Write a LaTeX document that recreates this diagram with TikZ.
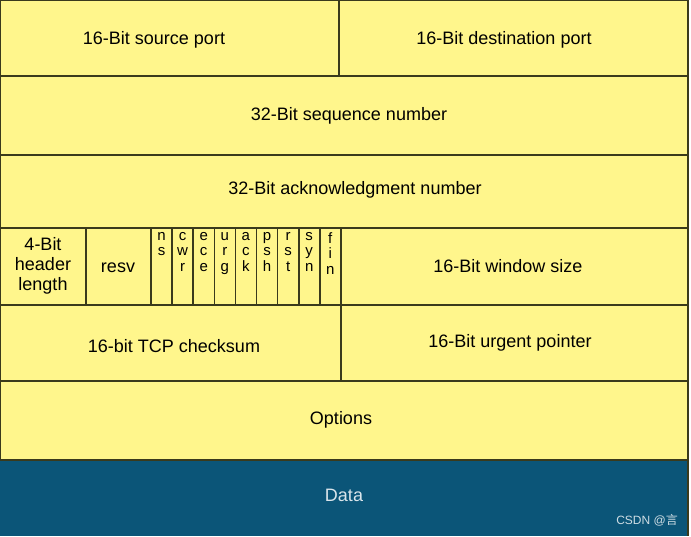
\documentclass[tikz,border=0pt]{standalone}
\usepackage{fontspec}
\setmainfont{Liberation Sans}
\newfontfamily\cjk{Noto Sans CJK SC}
\definecolor{fieldyel}{HTML}{FFF68C}
\definecolor{datablue}{HTML}{0B5578}
\definecolor{edge}{HTML}{3A3A1C}
\begin{document}
\begin{tikzpicture}[x=1pt,y=-1pt,
  fld/.style={draw=edge,line width=1.6pt,fill=fieldyel},
  lbl/.style={font=\fontsize{18}{20}\selectfont,text=black,inner sep=0},
  flg/.style={font=\fontsize{15}{15.5}\selectfont,align=center,inner sep=0,anchor=north}]
\useasboundingbox (0,0) rectangle (691,536);
\fill[white] (0,0) rectangle (691,536);
\draw[fld] (0,0) rectangle (339,76);
\draw[fld] (339,0) rectangle (688,76);
\draw[fld] (0,76) rectangle (688,155);
\draw[fld] (0,155) rectangle (688,228);
\draw[fld] (0,228) rectangle (86,305);
\draw[fld] (86,228) rectangle (151,305);
\foreach \i in {0,...,8}{\draw[fld] ({151+\i*21.1},228) rectangle ({151+(\i+1)*21.1},305);}
\draw[fld] (341,228) rectangle (688,305);
\draw[fld] (0,305) rectangle (341,381);
\draw[fld] (341,305) rectangle (688,381);
\draw[fld] (0,381) rectangle (688,460);
\fill[datablue] (0,460) rectangle (688,536);
\draw[edge,line width=1.6pt] (0,460) -- (688,460) (688,460) -- (688,536);
\node[lbl] (sp) at (154,40) {16-Bit source port};
\node[lbl] (dp) at (504,40) {16-Bit destination port};
\node[lbl] (seq) at (349,116) {32-Bit sequence number};
\node[lbl] (ack) at (355,190) {32-Bit acknowledgment number};
\node[lbl,align=center,font=\fontsize{18}{20}\selectfont] (hl) at (43,266) {4-Bit\\header\\length};
\node[lbl] (rs) at (118,268) {resv};
\foreach \t [count=\i from 0] in {{n\\s},{c\\w\\r},{e\\c\\e},{u\\r\\g},{a\\c\\k},{p\\s\\h},{r\\s\\t},{s\\y\\n},{f\\i\\n}}
  {\node[flg] (f\i) at ({161.5+\i*21.1},232) {\t};}
\node[lbl] (ws) at (508,266) {16-Bit window size};
\node[lbl] (cs) at (174,346) {16-bit TCP checksum};
\node[lbl] (up) at (510,343) {16-Bit urgent pointer};
\node[lbl] (op) at (341,420) {Options};
\node[lbl,text=white!85!datablue] (da) at (344,495) {Data};
\node[inner sep=0,text=white!80!datablue,font=\fontsize{12}{14}\selectfont,anchor=east] (wm) at (678,520) {CSDN @\cjk{言}};
\end{tikzpicture}
\end{document}
